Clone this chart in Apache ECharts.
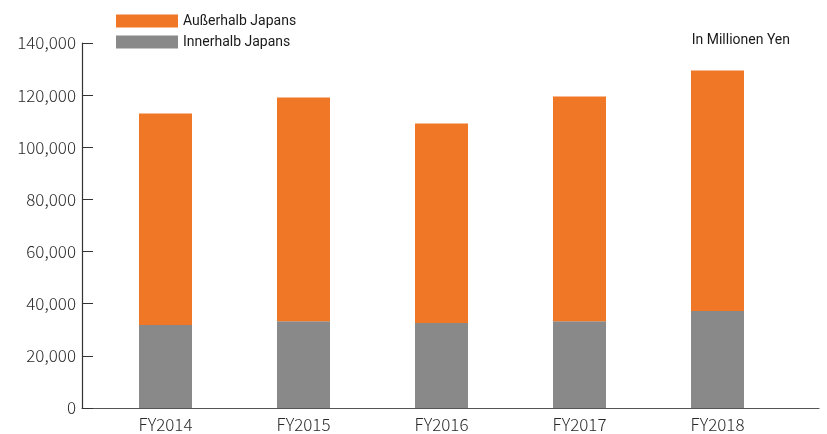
<!DOCTYPE html>
<html>
<head>
<meta charset="utf-8">
<script src="https://cdn.jsdelivr.net/npm/echarts@6/dist/echarts.min.js"></script>
<style>
  html, body { margin: 0; padding: 0; background: #fff; }
  #chart { width: 827px; height: 434px; }
</style>
</head>
<body>
<div id="chart"></div>
<script>
// 年度
const years = ['FY2014', 'FY2015', 'FY2016', 'FY2017', 'FY2018']
// 日本国内 (Mio. Yen)
const innerhalb = [31800, 33300, 32600, 33300, 37200]
// 日本国外
const ausserhalb = [81200, 85800, 76500, 86200, 92300]
const yTicks = [0, 20000, 40000, 60000, 80000, 100000, 120000, 140000]

const chart = echarts.init(document.getElementById('chart'))

const font = 'Noto Sans CJK JP'
const narrow = 'Roboto'

chart.setOption({
  animation: false,
  textStyle: { fontFamily: font },
  title: {
    text: 'In Millionen Yen',
    right: 32,
    top: 28,
    textStyle: { fontSize: 14, fontWeight: 'normal', color: '#1a1a1a', fontFamily: narrow }
  },
  legend: {
    orient: 'vertical',
    left: 111,
    top: 9,
    itemWidth: 62,
    itemHeight: 13,
    itemGap: 7,
    icon: 'rect',
    data: ['Außerhalb Japans', 'Innerhalb Japans'],
    textStyle: { fontSize: 14, color: '#1a1a1a', fontFamily: narrow }
  },
  grid: [
    { left: 96.5, right: 40.5, top: 43, bottom: 26 },
    { left: 82, right: 8, top: 43, bottom: 26 }
  ],
  xAxis: [
    {
      type: 'category',
      gridIndex: 0,
      data: years,
      axisLine: { show: false },
      axisTick: { show: false },
      axisLabel: { fontSize: 17, fontWeight: 300, color: '#2a2a2a', margin: 8, fontFamily: font }
    },
    {
      type: 'category',
      gridIndex: 1,
      data: years,
      axisLine: { lineStyle: { color: '#555', width: 1.2 } },
      axisTick: { show: false },
      axisLabel: { show: false }
    }
  ],
  yAxis: [
    {
      type: 'value',
      gridIndex: 0,
      min: yTicks[0],
      max: yTicks[yTicks.length - 1],
      interval: 20000,
      offset: 14.5,
      splitLine: { show: false },
      axisLine: { show: true, lineStyle: { color: '#333', width: 1.2 } },
      axisTick: { show: true, inside: true, length: 11, lineStyle: { color: '#333' } },
      axisLabel: {
        fontSize: 17,
        fontWeight: 300,
        color: '#2a2a2a',
        margin: 6,
        fontFamily: font,
        formatter: v => v.toLocaleString('en-US')
      }
    },
    {
      type: 'value',
      gridIndex: 1,
      show: false,
      min: 0,
      max: 140000
    }
  ],
  series: [
    {
      name: 'Innerhalb Japans',
      type: 'bar',
      stack: 'total',
      data: innerhalb,
      barWidth: 53,
      itemStyle: { color: '#898989' }
    },
    {
      name: 'Außerhalb Japans',
      type: 'bar',
      stack: 'total',
      data: ausserhalb,
      barWidth: 53,
      itemStyle: { color: '#EF7726' }
    }
  ]
})
</script>
</body>
</html>
